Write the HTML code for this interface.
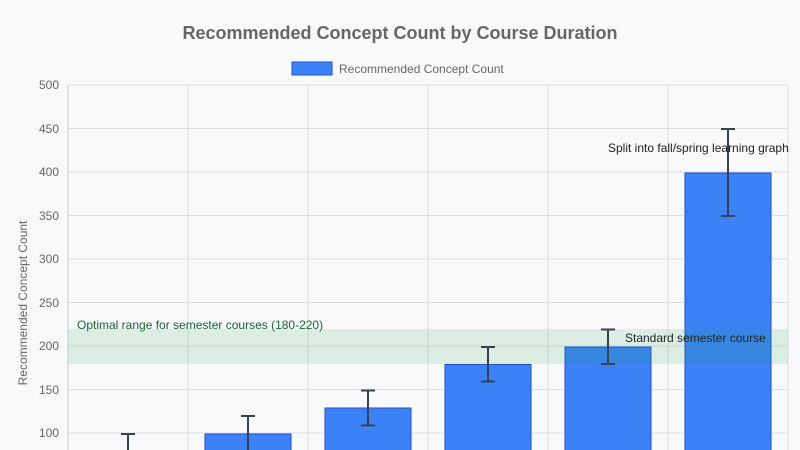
<!DOCTYPE html>
<html><head><meta charset="utf-8"><style>
html,body{margin:0;padding:0;background:#f8f9fb;}
svg{display:block;font-family:"Liberation Sans",Arial,sans-serif;}
</style></head><body>
<svg width="800" height="450" viewBox="0 0 800 450" xmlns="http://www.w3.org/2000/svg">
<rect width="800" height="450" fill="#f8f9fb"/>
<text x="400" y="39" text-anchor="middle" font-size="18" font-weight="bold" fill="#666">Recommended Concept Count by Course Duration</text>
<rect x="292" y="62" width="40" height="13" fill="#3b82f6" stroke="#1d4ed8" stroke-width="1"/>
<text x="339" y="73" font-size="12" fill="#666">Recommended Concept Count</text>
<g stroke="#ddd" stroke-width="1">
<line x1="68" y1="85" x2="788" y2="85"/><line x1="68" y1="128.5" x2="788" y2="128.5"/>
<line x1="68" y1="172" x2="788" y2="172"/><line x1="68" y1="215.5" x2="788" y2="215.5"/>
<line x1="68" y1="259" x2="788" y2="259"/><line x1="68" y1="302.5" x2="788" y2="302.5"/>
<line x1="68" y1="346" x2="788" y2="346"/><line x1="68" y1="389.5" x2="788" y2="389.5"/>
<line x1="68" y1="433" x2="788" y2="433"/>
<line x1="188" y1="85" x2="188" y2="450"/><line x1="308" y1="85" x2="308" y2="450"/>
<line x1="428" y1="85" x2="428" y2="450"/><line x1="548" y1="85" x2="548" y2="450"/>
<line x1="668" y1="85" x2="668" y2="450"/><line x1="788" y1="85" x2="788" y2="450"/>
</g>
<line x1="68" y1="85" x2="68" y2="450" stroke="#ccc"/>
<g font-size="12" fill="#666" text-anchor="end">
<text x="59" y="89">500</text><text x="59" y="133">450</text><text x="59" y="176">400</text>
<text x="59" y="220">350</text><text x="59" y="263">300</text><text x="59" y="307">250</text>
<text x="59" y="350">200</text><text x="59" y="394">150</text><text x="59" y="437">100</text>
</g>
<text transform="translate(27,303) rotate(-90)" text-anchor="middle" font-size="12" fill="#666">Recommended Concept Count</text>
<g fill="#3b82f6" stroke="#1d4ed8" stroke-width="1">
<rect x="85" y="455" width="86" height="10"/>
<rect x="205" y="434" width="86" height="20"/>
<rect x="325" y="408" width="86" height="50"/>
<rect x="445" y="364.5" width="86" height="90"/>
<rect x="565" y="347" width="86" height="110"/>
<rect x="685" y="173" width="86" height="290"/>
</g>
<rect x="68" y="329" width="720" height="35" fill="rgba(34,170,80,0.13)"/>
<g stroke="#374151" stroke-width="2">
<line x1="128" y1="434" x2="128" y2="450"/><line x1="121" y1="434" x2="135" y2="434"/>
<line x1="248" y1="416" x2="248" y2="450"/><line x1="241" y1="416" x2="255" y2="416"/>
<line x1="368" y1="390.5" x2="368" y2="425.5"/><line x1="361" y1="390.5" x2="375" y2="390.5"/><line x1="361" y1="425.5" x2="375" y2="425.5"/>
<line x1="488" y1="347" x2="488" y2="381.5"/><line x1="481" y1="347" x2="495" y2="347"/><line x1="481" y1="381.5" x2="495" y2="381.5"/>
<line x1="608" y1="329.5" x2="608" y2="364"/><line x1="601" y1="329.5" x2="615" y2="329.5"/><line x1="601" y1="364" x2="615" y2="364"/>
<line x1="728" y1="129" x2="728" y2="216"/><line x1="721" y1="129" x2="735" y2="129"/><line x1="721" y1="216" x2="735" y2="216"/>
</g>
<text x="77" y="329" font-size="12" fill="#166534">Optimal range for semester courses (180-220)</text>
<text x="625" y="342" font-size="12" fill="#222">Standard semester course</text>
<text x="608" y="152" font-size="12" fill="#222">Split into fall/spring learning graph</text>
</svg>
</body></html>
